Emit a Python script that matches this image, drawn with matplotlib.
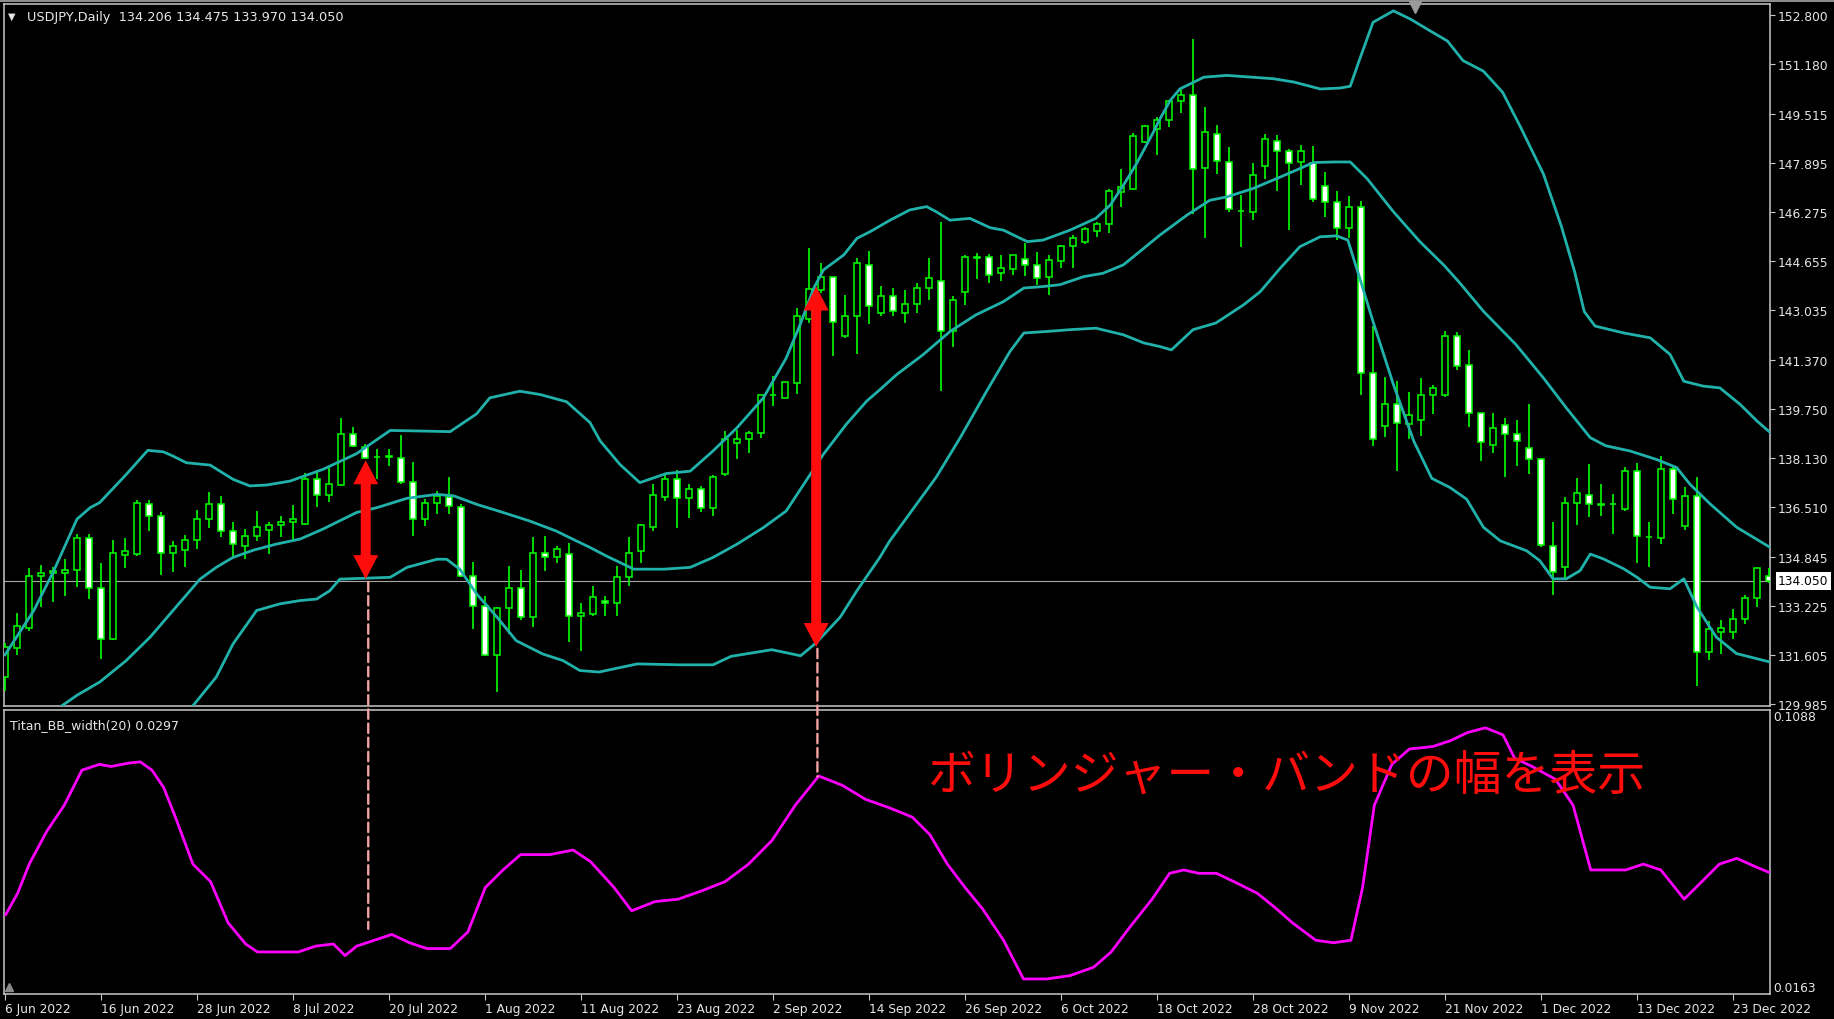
import numpy as np
import matplotlib
matplotlib.use("Agg")
import matplotlib.pyplot as plt
from matplotlib.patches import ConnectionPatch, Polygon, Rectangle
from matplotlib.lines import Line2D
from matplotlib.transforms import IdentityTransform, blended_transform_factory

# ---------------- data ----------------
symbol_header = "USDJPY,Daily  134.206 134.475 133.970 134.050"
indicator_header = "Titan_BB_width(20) 0.0297"
annotation_text = "ボリンジャー・バンドの幅を表示"

date_labels = ["6 Jun 2022", "16 Jun 2022", "28 Jun 2022", "8 Jul 2022", "20 Jul 2022",
               "1 Aug 2022", "11 Aug 2022", "23 Aug 2022", "2 Sep 2022", "14 Sep 2022",
               "26 Sep 2022", "6 Oct 2022", "18 Oct 2022", "28 Oct 2022", "9 Nov 2022",
               "21 Nov 2022", "1 Dec 2022", "13 Dec 2022", "23 Dec 2022"]
date_label_bars = [0, 8, 16, 24, 32, 40, 48, 56, 64, 72, 80, 88, 96, 104, 112, 120, 128, 136, 144]

opens = [130.86, 131.83, 132.50, 134.20, 134.31, 134.32, 134.41, 135.46, 133.83, 132.13,
         134.92, 134.94, 136.59, 136.21, 134.96, 135.08, 135.41, 136.10, 136.59, 135.69,
         135.22, 135.55, 135.73, 135.90, 136.01, 135.95, 137.44, 136.90, 137.23, 138.93,
         138.49, 138.15, 138.17, 138.14, 137.34, 136.10, 136.65, 136.83, 136.50, 134.20,
         133.23, 131.58, 133.14, 133.82, 132.85, 134.99, 134.83, 134.94, 132.88, 132.96,
         133.40, 133.31, 134.17, 135.03, 135.84, 136.83, 137.44, 136.81, 137.09, 136.46,
         137.58, 138.63, 138.77, 138.96, 140.20, 140.12, 140.61, 142.74, 143.70, 144.12,
         142.16, 142.85, 144.53, 142.93, 143.48, 142.93, 143.24, 143.76, 143.98, 142.35,
         143.62, 144.76, 144.78, 144.25, 144.38, 144.73, 144.53, 144.11, 144.66, 145.17,
         145.28, 145.65, 145.88, 146.95, 147.04, 148.60, 149.04, 149.32, 149.95, 150.17,
         147.74, 148.88, 147.94, 146.33, 146.29, 147.81, 148.62, 148.32, 147.94, 147.89,
         147.15, 146.60, 145.74, 146.45, 140.94, 139.18, 139.92, 139.26, 139.40, 140.20,
         140.23, 142.16, 141.20, 139.63, 138.56, 139.22, 138.93, 138.47, 138.08, 135.22,
         134.50, 136.65, 136.90, 136.60, 136.60, 136.43, 137.68, 135.50, 135.47, 137.75,
         135.88, 136.87, 131.69, 132.36, 132.36, 132.80, 133.49, 134.206]
highs = [132.00, 132.98, 134.48, 134.58, 134.50, 134.77, 135.60, 135.62, 134.66, 135.41,
         135.47, 136.73, 136.73, 136.32, 135.38, 135.58, 136.41, 137.01, 136.87, 135.99,
         135.77, 136.37, 135.99, 136.21, 136.57, 137.64, 137.72, 137.86, 139.46, 139.15,
         138.58, 138.41, 138.41, 138.88, 138.00, 136.76, 137.03, 137.50, 136.59, 134.69,
         133.56, 133.18, 134.55, 134.42, 135.51, 135.54, 135.22, 135.30, 133.31, 133.89,
         133.56, 134.55, 135.51, 135.93, 137.25, 137.64, 137.72, 137.25, 137.20, 137.56,
         139.02, 139.04, 139.02, 140.23, 140.83, 140.66, 143.09, 145.08, 144.58, 144.14,
         143.53, 144.75, 145.00, 143.84, 143.76, 143.70, 143.94, 144.75, 145.94, 143.48,
         144.86, 144.91, 144.88, 144.86, 144.86, 145.24, 144.97, 144.86, 145.19, 145.52,
         145.80, 145.96, 147.06, 147.72, 148.90, 149.18, 149.43, 149.98, 150.39, 152.02,
         149.76, 149.15, 148.44, 146.84, 147.89, 148.88, 148.82, 148.38, 148.49, 148.47,
         147.61, 146.97, 146.82, 146.64, 142.49, 140.80, 140.67, 140.32, 140.78, 140.54,
         142.32, 142.30, 141.69, 139.63, 139.63, 139.44, 139.37, 139.92, 138.14, 136.00,
         136.82, 137.46, 137.92, 137.26, 136.93, 137.83, 137.97, 135.99, 138.20, 137.83,
         137.15, 137.48, 132.72, 132.76, 133.13, 133.57, 134.50, 134.475]
lows = [130.40, 131.60, 132.40, 133.18, 133.34, 133.56, 133.84, 133.45, 131.47, 132.10,
        134.48, 134.88, 135.69, 134.26, 134.33, 134.50, 135.10, 135.80, 135.51, 134.83,
        134.77, 135.38, 134.94, 135.51, 135.38, 135.90, 136.50, 136.68, 137.20, 138.50,
        138.08, 137.42, 137.86, 137.28, 135.55, 135.88, 136.26, 136.26, 134.18, 132.46,
        131.56, 130.37, 132.30, 132.74, 132.52, 134.37, 134.66, 132.02, 131.72, 132.90,
        132.90, 132.90, 133.89, 134.63, 135.69, 136.70, 135.82, 136.15, 136.32, 136.21,
        137.53, 138.08, 138.30, 138.80, 139.84, 140.10, 140.25, 142.60, 143.60, 141.50,
        142.10, 141.57, 142.56, 142.82, 142.82, 142.60, 142.93, 143.37, 140.34, 141.79,
        143.20, 144.06, 143.92, 143.98, 144.20, 144.17, 143.87, 143.53, 144.42, 144.44,
        145.22, 145.44, 145.57, 146.45, 147.00, 148.58, 148.16, 149.10, 149.57, 146.20,
        145.43, 147.55, 146.27, 145.13, 146.01, 147.39, 146.97, 145.68, 147.17, 146.60,
        146.12, 145.35, 145.41, 140.21, 138.52, 138.82, 137.69, 138.74, 138.85, 139.57,
        140.14, 141.05, 139.15, 138.03, 138.30, 137.48, 137.86, 137.61, 135.19, 133.60,
        134.12, 135.91, 136.18, 136.21, 135.60, 136.38, 134.64, 134.50, 135.27, 136.27,
        135.74, 130.56, 131.44, 131.64, 132.13, 132.63, 133.18, 133.970]
closes = [131.85, 132.54, 134.20, 134.30, 134.37, 134.42, 135.47, 133.82, 132.13, 134.97,
          135.03, 136.62, 136.21, 134.97, 135.22, 135.41, 136.10, 136.59, 135.71, 135.27,
          135.55, 135.84, 135.91, 136.02, 136.10, 137.44, 136.90, 137.28, 138.93, 138.52,
          138.14, 138.17, 138.20, 137.34, 136.10, 136.65, 136.87, 136.54, 134.20, 133.23,
          131.58, 133.14, 133.82, 132.85, 134.97, 134.83, 135.11, 132.90, 132.99, 133.51,
          133.31, 134.17, 134.96, 135.91, 136.90, 137.44, 136.81, 137.09, 136.46, 137.50,
          138.74, 138.77, 138.96, 140.21, 140.21, 140.64, 142.82, 143.73, 144.11, 142.65,
          142.85, 144.58, 143.15, 143.48, 143.01, 143.24, 143.76, 144.09, 142.35, 143.35,
          144.78, 144.79, 144.20, 144.44, 144.84, 144.53, 144.09, 144.69, 145.17, 145.43,
          145.72, 145.87, 146.98, 147.12, 148.80, 149.13, 149.32, 149.95, 150.17, 147.70,
          148.93, 147.96, 146.38, 146.31, 147.50, 148.69, 148.29, 147.92, 148.29, 146.71,
          146.62, 145.74, 146.45, 140.94, 138.77, 139.92, 139.29, 139.54, 140.23, 140.43,
          142.16, 141.16, 139.63, 138.66, 139.13, 138.93, 138.69, 138.08, 135.25, 134.34,
          136.65, 136.98, 136.60, 136.58, 136.60, 137.70, 135.55, 135.50, 137.75, 136.76,
          136.87, 131.69, 132.47, 132.50, 132.80, 133.49, 134.48, 134.050]

# Bollinger bands (20): bar position, price
upper_x = [0, 2.4, 4.0, 6.0, 7.1, 7.9, 10.1, 11.9, 13.2, 14.0, 15.1, 17.1, 19.0, 20.4, 21.8,
           23.75, 26.5, 29.3, 32.1, 37.1, 39.3, 40.4, 42.9, 44.6, 46.8, 48.75, 49.6, 51.25,
           52.9, 55.1, 57.1, 59.0, 61.0, 63.2, 65.1, 66.25, 67.4, 68.2, 69.9, 71.0, 72.1,
           73.75, 75.4, 76.8, 77.6, 78.75, 80.4, 82.1, 83.2, 84.6, 85.2, 86.5, 88.75, 90.9,
           92.1, 93.2, 94.3, 95.7, 96.25, 97.1, 97.9, 99.9, 101.8, 105.7, 107.4, 109.6,
           111.25, 112.1, 112.9, 114.0, 115.7, 117.1, 118.7, 120.2, 121.5, 123.2, 124.8,
           126.3, 128.2, 129.7, 130.8, 131.6, 132.5, 134.9, 137.1, 138.75, 139.9, 141.5,
           142.9, 144.6, 146.0, 147.1]
upper_y = [131.60, 133.07, 134.33, 136.10, 136.48, 136.65, 137.58, 138.38, 138.33, 138.19,
           137.97, 137.89, 137.42, 137.20, 137.23, 137.36, 137.75, 138.27, 139.04, 139.00,
           139.59, 140.12, 140.34, 140.23, 139.99, 139.30, 138.69, 137.91, 137.31, 137.61,
           137.69, 138.36, 139.13, 140.12, 141.44, 142.54, 143.76, 144.36, 144.86, 145.41,
           145.63, 146.01, 146.35, 146.46, 146.29, 146.01, 146.07, 145.76, 145.68, 145.41,
           145.30, 145.35, 145.68, 146.07, 146.51, 147.17, 147.89, 148.93, 149.37, 149.98,
           150.36, 150.75, 150.81, 150.70, 150.59, 150.36, 150.39, 150.45, 151.36, 152.57,
           152.95, 152.68, 152.30, 151.95, 151.30, 150.95, 150.25, 149.09, 147.54, 145.80,
           144.30, 142.98, 142.50, 142.27, 142.11, 141.56, 140.67, 140.51, 140.45, 139.90,
           139.35, 138.97]

middle_x = [0, 2.5, 4.7, 6.0, 7.9, 10.1, 12.1, 14.0, 16.25, 17.6, 19.0, 20.7, 22.6, 24.6,
            26.5, 29.3, 31.0, 33.5, 36.0, 37.4, 39.3, 41.5, 43.7, 45.9, 47.6, 48.75, 50.1,
            52.4, 54.9, 57.1, 59.0, 61.0, 63.2, 65.1, 67.1, 68.2, 70.1, 71.8, 72.9, 74.3,
            76.5, 78.75, 80.9, 83.2, 84.9, 86.5, 87.9, 89.9, 91.5, 93.2, 94.9, 96.25, 98.5,
            100.4, 101.8, 104.0, 105.97, 107.9, 109.0, 110.7, 112.1, 113.5, 115.7, 117.9,
            119.9, 121.25, 123.2, 125.9, 128.2, 130.1, 132.1, 133.4, 135.4, 137.6, 139.3,
            140.4, 142.1, 144.3, 147.1]
middle_y = [128.60, 129.30, 129.90, 130.26, 130.70, 131.41, 132.19, 133.07, 134.11, 134.50,
            134.83, 135.07, 135.27, 135.44, 135.77, 136.32, 136.48, 136.79, 136.92, 136.87,
            136.59, 136.32, 136.04, 135.71, 135.38, 135.16, 134.88, 134.44, 134.44, 134.50,
            134.83, 135.27, 135.82, 136.37, 137.58, 138.25, 139.24, 140.01, 140.39, 140.89,
            141.55, 142.32, 142.87, 143.31, 143.76, 143.81, 143.87, 144.14, 144.25, 144.53,
            145.08, 145.52, 146.18, 146.67, 146.78, 147.06, 147.39, 147.72, 147.92, 147.94,
            147.94, 147.39, 146.29, 145.30, 144.52, 143.92, 142.99, 141.89, 140.78, 139.79,
            138.80, 138.53, 138.36, 138.08, 137.81, 137.26, 136.60, 135.83, 135.16]

lower_x = [0, 8, 14, 16.25, 17.6, 19.0, 20.97, 22.9, 24.6, 25.97, 27.08, 27.9, 32.1, 33.5,
           36.0, 36.8, 37.9, 39.3, 41.0, 42.6, 44.8, 46.5, 47.9, 49.5, 52.7, 56.1, 59.0, 60.5,
           63.9, 66.3, 67.6, 69.6, 71.0, 72.9, 73.7, 77.6, 79.6, 81.8, 83.75, 84.9, 86.8,
           88.75, 90.9, 93.2, 94.9, 96.25, 97.2, 99.0, 100.9, 103.2, 104.6, 106.25, 107.9,
           109.6, 110.97, 111.9, 112.9, 114.0, 115.7, 117.4, 118.9, 120.4, 121.8, 123.2,
           124.6, 126.8, 127.9, 129.0, 130.1, 131.25, 132.1, 133.2, 134.9, 136.0, 137.1,
           138.75, 139.9, 141.0, 142.6, 144.3, 147.1]
lower_y = [124.50, 126.80, 129.10, 130.20, 130.86, 131.96, 133.07, 133.29, 133.40, 133.45,
           133.73, 134.11, 134.17, 134.50, 134.77, 134.77, 134.44, 133.62, 132.85, 132.07,
           131.63, 131.41, 131.08, 131.03, 131.30, 131.27, 131.27, 131.55, 131.77, 131.57,
           132.00, 132.85, 133.73, 134.83, 135.36, 137.49, 138.80, 140.34, 141.66, 142.27,
           142.32, 142.38, 142.43, 142.21, 141.94, 141.82, 141.71, 142.38, 142.60, 143.20,
           143.64, 144.41, 145.13, 145.46, 145.49, 145.35, 144.08, 142.65, 140.56, 138.68,
           137.45, 137.15, 136.76, 135.83, 135.38, 135.05, 134.72, 134.12, 134.12, 134.39,
           134.94, 134.78, 134.45, 134.17, 133.84, 133.79, 134.12, 133.18, 132.19, 131.64,
           131.36]

# BB width indicator
width_x = [0.07, 1.05, 2.02, 3.48, 4.94, 6.41, 7.87, 8.84, 10.3, 11.28, 12.25, 13.23, 14.2,
           15.66, 17.13, 18.59, 20.05, 21.03, 22.98, 24.44, 25.9, 27.36, 28.34, 29.31, 30.77,
           32.23, 33.7, 35.16, 37.11, 38.57, 40.03, 41.5, 42.96, 45.39, 47.34, 48.8, 50.75,
           52.22, 54.17, 56.11, 58.06, 60.01, 61.96, 63.91, 65.86, 67.81, 69.76, 71.71,
           73.66, 75.61, 77.07, 78.53, 80.0, 81.45, 83.21, 84.87, 86.81, 88.76, 90.71,
           92.18, 93.64, 95.59, 97.05, 98.22, 99.49, 100.95, 102.41, 104.36, 105.82, 107.28,
           109.23, 110.69, 112.16, 113.13, 114.11, 115.57, 117.03, 118.98, 120.44, 121.9,
           123.37, 124.83, 125.8, 127.26, 129.21, 130.67, 132.14, 133.6, 135.06, 136.52,
           137.98, 139.93, 141.4, 142.86, 144.32, 145.78, 146.95]
width_y = [0.0422, 0.0491, 0.0586, 0.0693, 0.0778, 0.0892, 0.0911, 0.0904, 0.0915, 0.0919,
           0.0892, 0.0835, 0.0739, 0.0586, 0.0529, 0.0395, 0.0326, 0.0300, 0.0300, 0.0300,
           0.0319, 0.0326, 0.0288, 0.0319, 0.0338, 0.0357, 0.0330, 0.0311, 0.0311, 0.0365,
           0.0510, 0.0567, 0.0617, 0.0617, 0.0632, 0.0594, 0.0510, 0.0434, 0.0464, 0.0472,
           0.0499, 0.0529, 0.0586, 0.0663, 0.0778, 0.0873, 0.0843, 0.0797, 0.0770, 0.0739,
           0.0682, 0.0586, 0.0510, 0.0441, 0.0338, 0.0212, 0.0212, 0.0223, 0.0250, 0.0300,
           0.0376, 0.0472, 0.0556, 0.0567, 0.0556, 0.0556, 0.0529, 0.0491, 0.0445, 0.0395,
           0.0338, 0.0330, 0.0338, 0.0510, 0.0778, 0.0911, 0.0961, 0.0969, 0.0988, 0.1015,
           0.1030, 0.1007, 0.0931, 0.0904, 0.0862, 0.0778, 0.0567, 0.0567, 0.0567, 0.0586,
           0.0567, 0.0472, 0.0529, 0.0586, 0.0605, 0.0579, 0.0560]

price_ticks = [152.800, 151.180, 149.515, 147.895, 146.275, 144.655, 143.035, 141.370,
               139.750, 138.130, 136.510, 134.845, 133.225, 131.605, 129.985]
current_price = 134.050
width_scale = [0.0163, 0.1088]

# annotation arrows (bar, top price, bottom price) and dashed guide lines
arrow_bars = [30.06, 67.6]
arrow_tops = [138.05, 143.81]
arrow_bottoms = [134.11, 131.86]
guide_bars = [30.27, 67.7]
guide_prices = [134.02, 131.80]
guide_widths = [0.0375, 0.0872]

# ---------------- style ----------------
W, H, DPI = 1834, 1020, 100
GREEN = "#00ff00"
TEAL = "#20b2aa"
MAGENTA = "#ff00ff"
RED = "#ff0d0d"
PINK = "#f4a3a3"
FG = "#e6e6e6"
FRAME = "#c8c8c8"
FS = 8.8

fig = plt.figure(figsize=(W / DPI, H / DPI), dpi=DPI, facecolor="black")

def fx(px):
    return px / W

def fy(py):
    return 1 - py / H

ax = fig.add_axes([fx(4), fy(707), fx(1770) - fx(4), fy(5) - fy(707)], facecolor="black")
ax2 = fig.add_axes([fx(4), fy(995), fx(1770) - fx(4), fy(711) - fy(995)], facecolor="black",
                   sharex=ax)

xmin, xmax = -0.083, 147.08
ax.set_xlim(xmin, xmax)
ax.set_ylim(129.904, 153.177)
ax2.set_ylim(width_scale[0], width_scale[1])

for a in (ax, ax2):
    for s in a.spines.values():
        s.set_color(FRAME)
        s.set_linewidth(1.1)

# candles
o = np.array(opens); h = np.array(highs); l = np.array(lows); c = np.array(closes)
xb = np.arange(len(o))
ax.vlines(xb, l, h, color=GREEN, lw=1.2, zorder=3)
bull = c >= o
bottom = np.minimum(o, c)
height = np.maximum(np.abs(c - o), 0.012)
ax.bar(xb[bull], height[bull], bottom=bottom[bull], width=0.52, facecolor="black",
       edgecolor=GREEN, linewidth=1.1, zorder=4)
ax.bar(xb[~bull], height[~bull], bottom=bottom[~bull], width=0.52, facecolor="white",
       edgecolor=GREEN, linewidth=1.1, zorder=4)

# bands
for bx, by in ((upper_x, upper_y), (middle_x, middle_y), (lower_x, lower_y)):
    ax.plot(bx, by, color=TEAL, lw=2.0, zorder=5, solid_joinstyle="round")

# current price line
ax.axhline(current_price, color="#a8a8a8", lw=0.8, zorder=1)

# right price axis
ax.yaxis.tick_right()
ax.set_yticks(price_ticks)
ax.set_yticklabels([f"{v:.3f}" for v in price_ticks])
ax.tick_params(axis="y", colors=FRAME, labelcolor=FG, labelsize=FS, length=3.5, width=0.8, pad=2)
ax.tick_params(axis="x", bottom=False, labelbottom=False)

blend = blended_transform_factory(ax.transAxes, ax.transData)
ax.text(1.0045, current_price, f"{current_price:.3f}", transform=blend, va="center", ha="left",
        fontsize=FS, color="black", clip_on=False, zorder=20,
        bbox=dict(boxstyle="square,pad=0.18", fc="white", ec="none"))

# indicator
ax2.plot(width_x, width_y, color=MAGENTA, lw=2.0, zorder=5)
ax2.yaxis.tick_right()
ax2.set_yticks([])
blend2 = blended_transform_factory(ax2.transAxes, ax2.transData)
ax2.text(1.002, width_scale[1], f"{width_scale[1]:.4f}", transform=blend2, va="top", ha="left",
         fontsize=FS, color=FG, clip_on=False)
ax2.text(1.002, width_scale[0], f"{width_scale[0]:.4f}", transform=blend2, va="bottom",
         ha="left", fontsize=FS, color=FG, clip_on=False)
ax2.text(0.0035, 0.95, indicator_header, transform=ax2.transAxes, va="center", ha="left",
         fontsize=9.0, color=FG)

ax2.set_xticks(date_label_bars)
ax2.set_xticklabels(date_labels)
ax2.tick_params(axis="x", colors=FRAME, labelcolor=FG, labelsize=FS, length=4, width=0.8,
                pad=1.5, direction="out")
for t in ax2.get_xticklabels():
    t.set_ha("left")

# header
fig.text(fx(8), fy(17), "▼", fontsize=7, color=FG, va="center", ha="left")
fig.text(fx(27), fy(17), symbol_header, fontsize=9.3, color=FG, va="center", ha="left")

# top window strip and shift marker
fig.add_artist(Rectangle((0, fy(3)), 1, fy(0) - fy(3), transform=fig.transFigure,
                         facecolor="#8c8c8c", edgecolor="none"))
fig.add_artist(Line2D([fx(1415)], [fy(8)], marker="v", markersize=8, color="#9a9a9a",
                      transform=fig.transFigure, linestyle="none"))
fig.add_artist(Line2D([fx(9)], [fy(988)], marker="^", markersize=6, color="#8a8a8a",
                      transform=fig.transFigure, linestyle="none"))

# dashed guides
for gb, gp, gw in zip(guide_bars, guide_prices, guide_widths):
    con = ConnectionPatch(xyA=(gb, gp), coordsA=ax.transData, xyB=(gb, gw),
                          coordsB=ax2.transData, color=PINK, lw=1.7,
                          linestyle=(0, (4.0, 2.0)), zorder=8)
    fig.add_artist(con)

# red double arrows (pixel geometry)
def double_arrow(xbar, ytop, ybot, head_w=25, head_l=24, shaft_w=10):
    X, Yt = ax.transData.transform((xbar, ytop))
    _, Yb = ax.transData.transform((xbar, ybot))
    pts = [(X, Yt), (X + head_w / 2, Yt - head_l), (X + shaft_w / 2, Yt - head_l),
           (X + shaft_w / 2, Yb + head_l), (X + head_w / 2, Yb + head_l), (X, Yb),
           (X - head_w / 2, Yb + head_l), (X - shaft_w / 2, Yb + head_l),
           (X - shaft_w / 2, Yt - head_l), (X - head_w / 2, Yt - head_l)]
    fig.add_artist(Polygon(pts, closed=True, transform=IdentityTransform(), facecolor=RED,
                           edgecolor="none", zorder=12))

for ab, at, abt in zip(arrow_bars, arrow_tops, arrow_bottoms):
    double_arrow(ab, at, abt)

# Japanese annotation
fig.text(fx(927), fy(776), annotation_text, color=RED, fontsize=34.5,
         family=["Noto Sans CJK JP", "DejaVu Sans"], va="center", ha="left")

fig.savefig("out.png", dpi=DPI, facecolor="black")
